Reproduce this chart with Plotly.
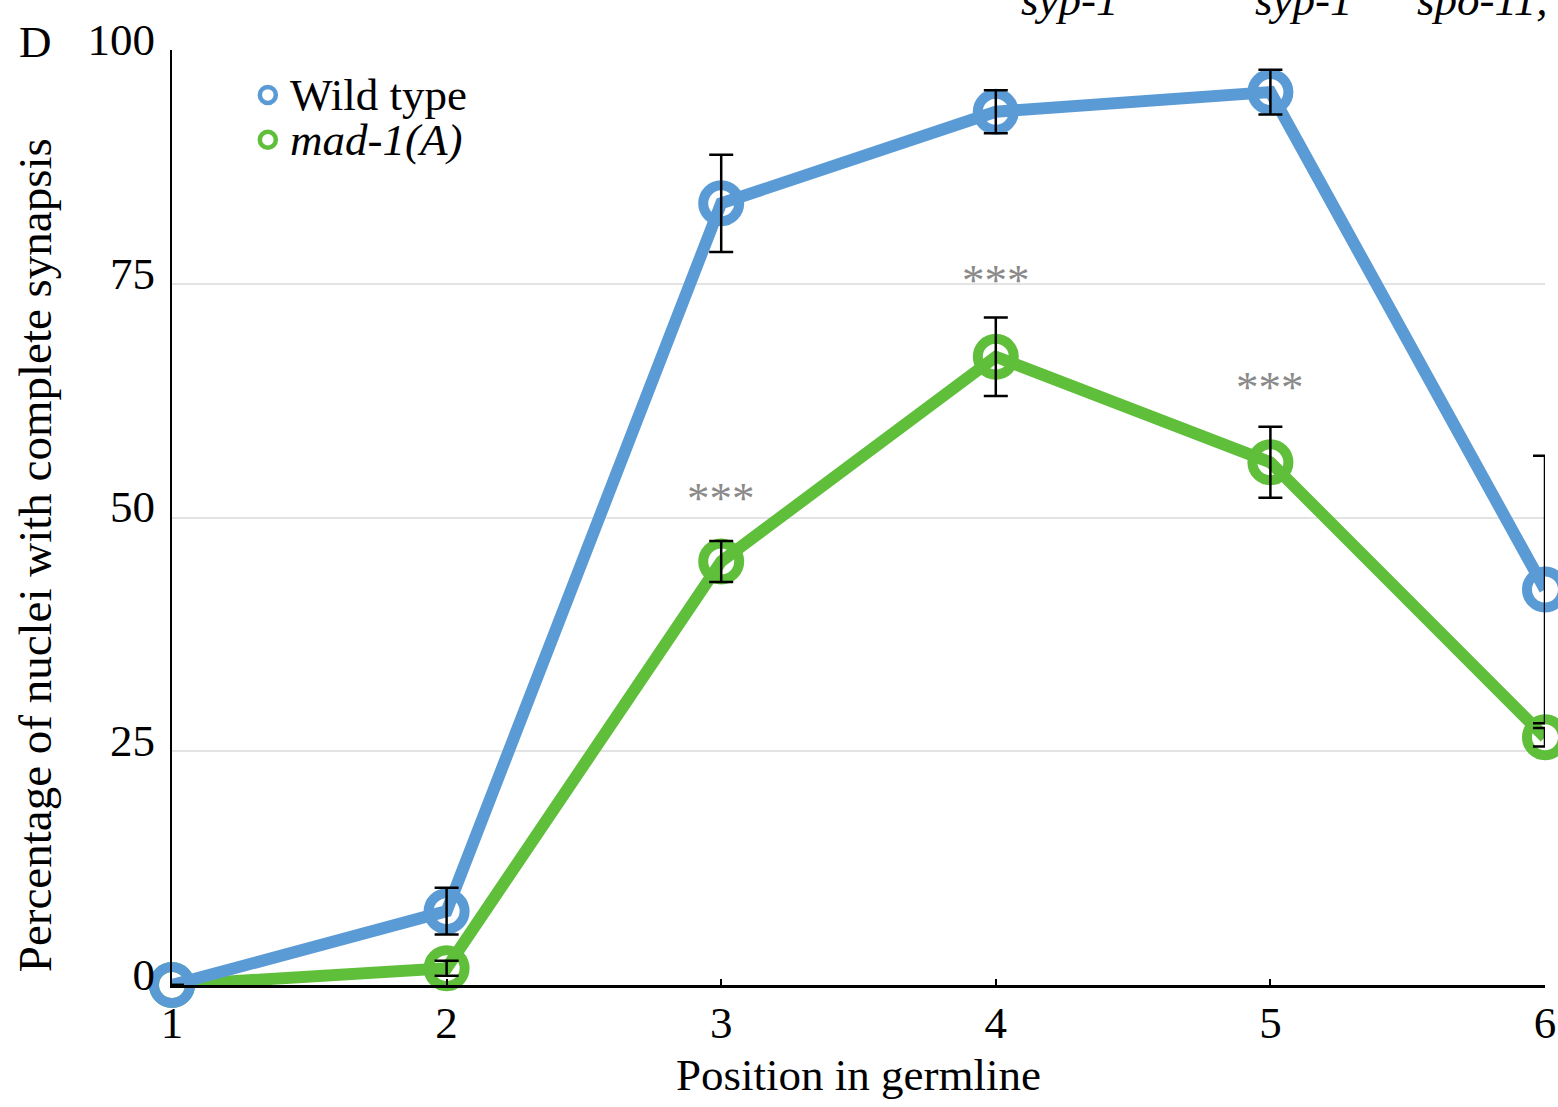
import plotly.graph_objects as go

positions = [1, 2, 3, 4, 5, 6]
wild_type = [0, 7.9, 83.6, 93.4, 95.5, 42.3]
wild_type_err = [0, 2.5, 5.2, 2.3, 2.4, 14.3]
mad1 = [0, 1.8, 45.3, 67.2, 55.9, 26.5]
mad1_err = [0, 0.8, 2.2, 4.2, 3.8, 1.0]
sig_positions = [3, 4, 5]
sig_heights = [52.1, 75.4, 64.0]
y_ticks = [0, 25, 50, 75, 100]
series_names = ["Wild type", "<i>mad-1(A)</i>"]

BLUE = "#5b9bd5"
GREEN = "#5fbf3a"
FONT = "Liberation Serif"
FS = 45

fig = go.Figure()

# green line first, blue on top
fig.add_trace(go.Scatter(
    x=positions, y=mad1, mode="lines+markers", name=series_names[1], showlegend=False,
    line=dict(color=GREEN, width=12),
    marker=dict(symbol="circle-open", size=36, color=GREEN, line=dict(width=10, color=GREEN)),
    cliponaxis=False,
))
fig.add_trace(go.Scatter(
    x=positions, y=wild_type, mode="lines+markers", name=series_names[0], showlegend=False,
    line=dict(color=BLUE, width=12),
    marker=dict(symbol="circle-open", size=36, color=BLUE, line=dict(width=10, color=BLUE)),
    cliponaxis=False,
))
# error bars drawn on top
for vals, errs in [(mad1, mad1_err), (wild_type, wild_type_err)]:
    fig.add_trace(go.Scatter(
        x=positions, y=vals, mode="markers", showlegend=False,
        marker=dict(size=1, opacity=0),
        error_y=dict(type="data", array=errs, visible=True, color="black", thickness=2.5, width=12),
        cliponaxis=False, hoverinfo="skip",
    ))

annotations = []
shapes = []
for xp, yh in zip(sig_positions, sig_heights):
    annotations.append(dict(x=xp, y=yh, xref="x", yref="y", text="***", showarrow=False,
                            font=dict(family=FONT, size=FS, color="#8a8a8a"), yanchor="middle"))

# legend (drawn manually for tight row spacing)
legend_rows = [(series_names[0], BLUE, 0.952), (series_names[1], GREEN, 0.904)]
for name, col, yp in legend_rows:
    shapes.append(dict(type="circle", xref="paper", yref="paper", xsizemode="pixel", ysizemode="pixel",
                       xanchor=0.0698, yanchor=yp, x0=-8, x1=8, y0=-8, y1=8,
                       line=dict(color=col, width=4.5), fillcolor="rgba(0,0,0,0)"))
    annotations.append(dict(x=0.0845, y=yp, xref="paper", yref="paper", text=name, showarrow=False,
                            xanchor="left", yanchor="middle",
                            font=dict(family=FONT, size=FS, color="black")))

annotations.append(dict(x=-0.0996, y=1.0086, xref="paper", yref="paper", text="D", showarrow=False,
                        font=dict(family=FONT, size=FS, color="black"), xanchor="center", yanchor="middle"))
annotations.append(dict(x=-0.0996, y=0.46, xref="paper", yref="paper",
                        text="Percentage of nuclei with complete synapsis", showarrow=False,
                        textangle=-90, font=dict(family=FONT, size=47, color="black"),
                        xanchor="center", yanchor="middle"))
for xp, txt in [(4.27, "<i>syp-1</i>"), (5.12, "<i>syp-1</i>"), (5.77, "<i>spo-11,</i>")]:
    annotations.append(dict(x=xp, y=1.054, xref="x", yref="paper", text=txt, showarrow=False,
                            font=dict(family=FONT, size=FS, color="black"), yanchor="middle"))

fig.update_layout(
    width=1558, height=1107,
    margin=dict(l=172, r=13, t=50, b=122),
    paper_bgcolor="white", plot_bgcolor="white",
    font=dict(family=FONT, size=FS, color="black"),
    showlegend=False,
    annotations=annotations,
    shapes=shapes,
    xaxis=dict(range=[1, 6], tickvals=positions, ticktext=[str(p) for p in positions],
               showgrid=False, zeroline=False, showline=True, linecolor="black", linewidth=3,
               ticks="inside", ticklen=6, tickcolor="black", tickwidth=2,
               tickfont=dict(family=FONT, size=FS), ticklabelstandoff=-4,
               ticklabeloverflow="allow", automargin=False,
               title=dict(text="Position in germline", font=dict(family=FONT, size=FS), standoff=12)),
    yaxis=dict(range=[0, 100], tickvals=y_ticks, showgrid=True, gridcolor="#e3e3e3", gridwidth=2,
               zeroline=False, showline=True, linecolor="black", linewidth=2,
               ticks="", automargin=False,
               tickfont=dict(family=FONT, size=FS), ticklabelshift=-11, ticklabelstandoff=6),
)

fig.write_html("out.html")
